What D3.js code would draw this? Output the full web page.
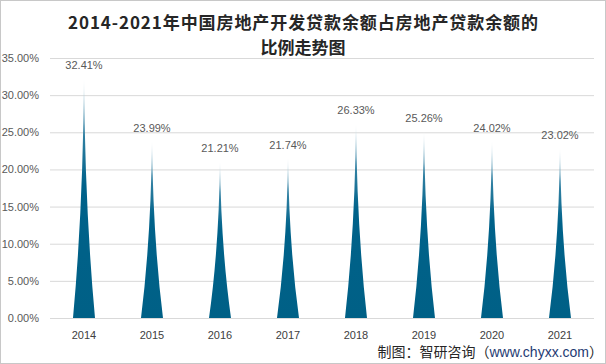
<!DOCTYPE html>
<html><head><meta charset="utf-8">
<script src="https://cdn.jsdelivr.net/npm/d3@7"></script>
<style>body{margin:0;background:#fff}svg{display:block}</style>
</head><body>
<script>
const years = ["2014","2015","2016","2017","2018","2019","2020","2021"];
const values = [32.41, 23.99, 21.21, 21.74, 26.33, 25.26, 24.02, 23.02];
const yTicks = [0,5,10,15,20,25,30,35];
const titleLines = ["2014-2021年中国房地产开发贷款余额占房地产贷款余额的","比例走势图"];

const W=606,H=364;
const svg=d3.select("body").append("svg").attr("width",W).attr("height",H);
svg.append("rect").attr("x",0.5).attr("y",0.5).attr("width",W-1).attr("height",H-1).attr("fill","#fff").attr("stroke","#c8c8c8");

const defs=svg.append("defs");
const g=defs.append("linearGradient").attr("id","sp").attr("x1",0).attr("y1",0).attr("x2",0).attr("y2",1);
g.append("stop").attr("offset",0).attr("stop-color","#ffffff");
g.append("stop").attr("offset",0.2).attr("stop-color","#3a86a7");
g.append("stop").attr("offset",0.45).attr("stop-color","#00628a");
g.append("stop").attr("offset",1).attr("stop-color","#006086");

const x=d3.scaleBand().domain(years).range([50,594]);
const y=d3.scaleLinear().domain([0,35]).range([318,58]);

svg.append("g").selectAll("line").data(yTicks).join("line")
  .attr("x1",50).attr("x2",594).attr("y1",d=>y(d)+0.5).attr("y2",d=>y(d)+0.5)
  .attr("stroke","#d9d9d9").attr("stroke-width",1);

svg.append("g").selectAll("text").data(yTicks).join("text")
  .attr("x",39).attr("y",d=>y(d)+4).attr("text-anchor","end")
  .attr("font-family","Liberation Sans, Arial, sans-serif").attr("font-size",11).attr("fill","#595959")
  .text(d=>d.toFixed(2)+"%");

const bw=22;
svg.append("g").selectAll("path").data(values).join("path")
  .attr("d",(d,i)=>{
    const cx=x(years[i])+x.bandwidth()/2, b=y(0), t=y(d), h=b-t;
    return `M${cx-bw/2},${b} Q${cx-1},${b-h*0.45} ${cx},${t} Q${cx+1},${b-h*0.45} ${cx+bw/2},${b} Z`;
  })
  .attr("fill","url(#sp)");

svg.append("g").selectAll("text").data(values).join("text")
  .attr("x",(d,i)=>x(years[i])+x.bandwidth()/2).attr("y",d=>y(d)-8).attr("text-anchor","middle")
  .attr("font-family","Liberation Sans, Arial, sans-serif").attr("font-size",11).attr("fill","#595959")
  .text(d=>d.toFixed(2)+"%");

svg.append("g").selectAll("text").data(years).join("text")
  .attr("x",d=>x(d)+x.bandwidth()/2).attr("y",339).attr("text-anchor","middle")
  .attr("font-family","Liberation Sans, Arial, sans-serif").attr("font-size",11).attr("fill","#404040")
  .text(d=>d);

svg.append("g").selectAll("text").data(titleLines).join("text")
  .attr("x",303).attr("y",(d,i)=>29+i*25).attr("text-anchor","middle")
  .attr("font-family","Noto Sans CJK SC, sans-serif").attr("font-weight","bold").attr("font-size",17).attr("fill","#262626")
  .each(function(d,i){ if(i===0) d3.select(this).attr("textLength",470).attr("lengthAdjust","spacing"); })
  .text(d=>d);

const src=svg.append("text").attr("x",603).attr("y",357).attr("text-anchor","end")
  .attr("font-family","Noto Sans CJK SC, sans-serif").attr("font-size",14).attr("fill","#262626");
src.append("tspan").text("制图：智研咨询（");
src.append("tspan").attr("fill","#1f3b73").attr("font-family","Liberation Sans, Arial, sans-serif").text("www.chyxx.com");
src.append("tspan").text("）");
</script>
</body></html>
